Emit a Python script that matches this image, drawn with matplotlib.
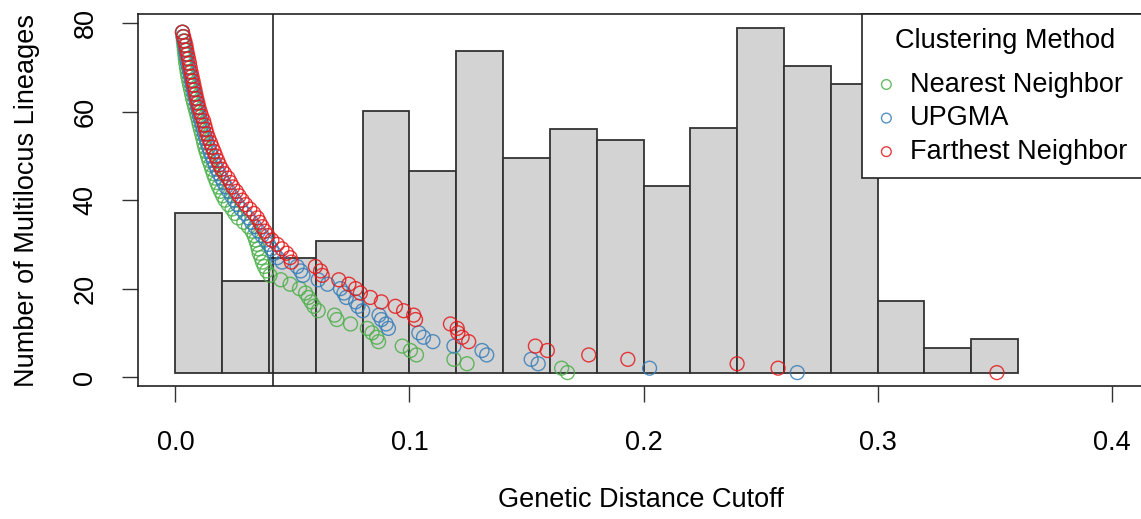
import matplotlib.pyplot as plt
import numpy as np

plt.rcParams['font.family'] = ['Liberation Sans', 'DejaVu Sans']
plt.rcParams['font.size'] = 19.5

# number of multilocus lineages, one point per count for every method
mll = [78, 77, 76, 75, 74, 73, 72, 71, 70, 69, 68, 67, 66, 65, 64, 63, 62, 61, 60,
       59, 58, 57, 56, 55, 54, 53, 52, 51, 50, 49, 48, 47, 46, 45, 44, 43, 42, 41,
       40, 39, 38, 37, 36, 35, 34, 33, 32, 31, 30, 29, 28, 27, 26, 25, 24, 23, 22,
       21, 20, 19, 18, 17, 16, 15, 14, 13, 12, 11, 10, 9, 8, 7, 6, 5, 4, 3, 2, 1]

# genetic distance cutoff at which each count is reached
nearest_cut = [.0030, .0032, .0034, .0036, .0038, .0040, .0042, .0044, .0047, .0050,
               .0053, .0057, .0061, .0065, .0069, .0073, .0078, .0083, .0088, .0093,
               .0098, .0102, .0107, .0112, .0117, .0121, .0126, .0131, .0137, .0143,
               .0150, .0156, .0162, .0169, .0176, .0184, .0193, .0202, .0212, .0226,
               .0242, .0254, .0268, .0292, .0312, .0327, .0336, .0343, .0349, .0354,
               .0358, .0366, .0372, .0380, .0390, .0404, .0450, .0490, .0530, .0556,
               .0568, .0580, .0592, .0610, .0680, .0690, .0748, .0820, .0840, .0860,
               .0868, .0969, .1004, .1030, .1190, .1246, .1650, .1675]

upgma_cut = [.0030, .0033, .0037, .0040, .0043, .0046, .0049, .0052, .0056, .0060,
             .0064, .0068, .0072, .0076, .0080, .0085, .0090, .0094, .0098, .0103,
             .0109, .0114, .0119, .0124, .0130, .0136, .0142, .0148, .0155, .0162,
             .0170, .0178, .0186, .0196, .0206, .0216, .0228, .0240, .0252, .0265,
             .0280, .0296, .0312, .0325, .0340, .0355, .0370, .0385, .0398, .0410,
             .0422, .0435, .0456, .0520, .0535, .0545, .0610, .0650, .0705, .0720,
             .0730, .0770, .0780, .0800, .0870, .0880, .0900, .0910, .1040, .1060,
             .1100, .1190, .1310, .1330, .1520, .1550, .2026, .2657]

farthest_cut = [.0030, .0035, .0040, .0045, .0048, .0052, .0056, .0060, .0063, .0067,
                .0071, .0075, .0079, .0083, .0087, .0091, .0096, .0100, .0106, .0112,
                .0120, .0125, .0130, .0135, .0142, .0150, .0157, .0165, .0172, .0180,
                .0188, .0198, .0210, .0225, .0235, .0245, .0260, .0272, .0285, .0300,
                .0318, .0335, .0350, .0360, .0370, .0382, .0395, .0412, .0435, .0455,
                .0475, .0490, .0495, .0598, .0620, .0627, .0698, .0741, .0770, .0790,
                .0833, .0880, .0940, .0975, .1018, .1026, .1175, .1204, .1207, .1225,
                .1253, .1538, .1589, .1766, .1933, .2400, .2575, .3510]

# distance histogram, rescaled onto the lineage axis
bin_left = [0.00, 0.02, 0.04, 0.06, 0.08, 0.10, 0.12, 0.14, 0.16,
            0.18, 0.20, 0.22, 0.24, 0.26, 0.28, 0.30, 0.32, 0.34]
bin_top = [37.0, 21.7, 26.9, 30.8, 60.2, 46.5, 73.8, 49.6, 56.0,
           53.7, 43.2, 56.3, 79.0, 70.4, 66.3, 17.3, 6.5, 8.5]
bin_base = 0.85
bin_width = 0.02

cutoff = 0.0415

methods = ['Nearest Neighbor', 'UPGMA', 'Farthest Neighbor']
colors = ['#4DAF4A', '#377EB8', '#E41A1C']

W, H = 1141, 519
fig = plt.figure(figsize=(W / 100, H / 100), dpi=100)
ax = fig.add_axes([138 / W, (H - 386.4) / H, 1011 / W, 372.4 / H])

ax.bar(bin_left, np.array(bin_top) - bin_base, width=bin_width, bottom=bin_base,
       align='edge', color='#D3D3D3', edgecolor='#333333', linewidth=1.3, zorder=1)
ax.axvline(cutoff, color='#222222', linewidth=1.2, zorder=2)

for cut, name, col in zip([nearest_cut, upgma_cut, farthest_cut], methods, colors):
    ax.scatter(cut, mll, s=100, facecolors='none', edgecolors=col, linewidths=1.0,
               alpha=0.85, label=name, zorder=3)

ax.set_xlim(-0.016, 0.416)
ax.set_ylim(-2.12, 82.12)
ax.set_xticks([0.0, 0.1, 0.2, 0.3, 0.4])
ax.set_xticklabels(['0.0', '0.1', '0.2', '0.3', '0.4'])
ax.set_yticks([0, 20, 40, 60, 80])
ax.tick_params(length=11.5, width=1.0, color='#333333')
ax.tick_params(axis='x', pad=20)
ax.tick_params(axis='y', pad=17, labelrotation=90)
for lab in ax.get_yticklabels():
    lab.set_va('center')
for sp in ax.spines.values():
    sp.set_linewidth(1.2)
    sp.set_color('#222222')

ax.set_xlabel('Genetic Distance Cutoff', va='center')
ax.xaxis.set_label_coords(0.4973, -0.305)
ax.set_ylabel('Number of Multilocus Lineages', va='center')
ax.yaxis.set_label_coords(-0.1093, 0.5)

leg = ax.legend(title='Clustering Method', loc='upper left',
                bbox_to_anchor=(0.7161, 0, 0.2839, 1), mode='expand',
                borderaxespad=0, fancybox=False, framealpha=1, edgecolor='#222222',
                markerscale=0.7, borderpad=0.5, labelspacing=0.28,
                handlelength=0.8, handletextpad=0.48)
leg.get_frame().set_linewidth(1.2)
leg._legend_box.sep = 13.0

fig.savefig('out.png', dpi=100)
